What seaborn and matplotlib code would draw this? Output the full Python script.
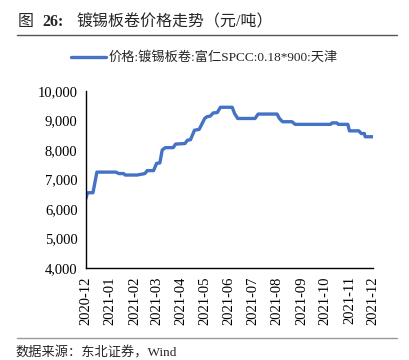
import numpy as np
import pandas as pd
import matplotlib
matplotlib.use('Agg')
import matplotlib.pyplot as plt
import matplotlib.dates as mdates
from matplotlib.lines import Line2D
from matplotlib.ticker import FuncFormatter
import seaborn as sns

# Price series (yuan/ton)
dates = [
    '2020-12-01', '2020-12-03', '2020-12-10', '2020-12-15', '2021-01-08',
    '2021-01-12', '2021-01-18', '2021-01-20', '2021-02-04', '2021-02-10',
    '2021-02-14', '2021-02-17', '2021-02-25', '2021-03-01', '2021-03-05',
    '2021-03-08', '2021-03-12', '2021-03-22', '2021-03-25', '2021-04-06',
    '2021-04-09', '2021-04-13', '2021-04-18', '2021-04-24', '2021-05-01',
    '2021-05-04', '2021-05-08', '2021-05-12', '2021-05-17', '2021-05-21',
    '2021-06-05', '2021-06-08', '2021-06-12', '2021-07-04', '2021-07-08',
    '2021-08-01', '2021-08-04', '2021-08-08', '2021-08-20', '2021-08-24',
    '2021-10-08', '2021-10-10', '2021-10-16', '2021-10-18', '2021-10-30',
    '2021-11-01', '2021-11-13', '2021-11-16', '2021-11-20', '2021-11-21',
    '2021-12-01',
]
prices = [
    6350, 6550, 6550, 7250, 7250,
    7200, 7200, 7150, 7150, 7180,
    7200, 7300, 7300, 7550, 7560,
    8000, 8080, 8080, 8200, 8220,
    8330, 8350, 8670, 8700, 9070,
    9130, 9150, 9260, 9270, 9450,
    9450, 9240, 9070, 9070, 9220,
    9220, 9070, 8960, 8960, 8870,
    8870, 8920, 8920, 8870, 8870,
    8650, 8650, 8560, 8560, 8450,
    8450,
]
series_name = '价格:镀锡板卷:富仁SPCC:0.18*900:天津'
y_ticks = [4000, 5000, 6000, 7000, 8000, 9000, 10000]

df = pd.DataFrame({'date': pd.to_datetime(dates), 'price': prices})

sns.set_style('white')
fonts = ['Liberation Serif', 'Noto Sans CJK SC', 'DejaVu Sans']
plt.rcParams['font.family'] = fonts

fig = plt.figure(figsize=(4.09, 3.6), dpi=100)
ax = fig.add_axes([0.210, 0.256, 0.702, 0.491])

sns.lineplot(data=df, x='date', y='price', ax=ax, color='#4472C4',
             linewidth=2.4, label=series_name)

ax.set_xlim(pd.Timestamp('2020-12-01'), pd.Timestamp('2021-12-01'))
ax.set_ylim(4000, 10000)
ax.set_yticks(y_ticks)
ax.yaxis.set_major_formatter(FuncFormatter(lambda v, p: f'{int(v):,}'))
ax.xaxis.set_major_locator(mdates.MonthLocator())
ax.xaxis.set_major_formatter(mdates.DateFormatter('%Y-%m'))
ax.set_xlabel('')
ax.set_ylabel('')

for lab in ax.get_xticklabels():
    lab.set_rotation(90)
ax.tick_params(axis='both', direction='out', length=4, width=1, colors='black',
               labelsize=10.5, pad=2)
for side in ['top', 'right']:
    ax.spines[side].set_visible(False)
for side in ['left', 'bottom']:
    ax.spines[side].set_color('black')
    ax.spines[side].set_linewidth(1)

ax.legend(loc='center', bbox_to_anchor=(0.50, 0.839), bbox_transform=fig.transFigure,
          frameon=False, fontsize=9.5, handlelength=2.6, handletextpad=0.2)

# title and source
fig.text(18 / 409, 1 - 22 / 360, '图', fontsize=11.5, va='center', family=fonts)
fig.text(42 / 409, 1 - 22 / 360, '26:', fontsize=11.5, fontweight='bold', va='center', family=fonts)
fig.text(76 / 409, 1 - 22 / 360, '镀锡板卷价格走势（元/吨）', fontsize=11.5, va='center', family=fonts)
fig.add_artist(Line2D([17 / 409, 397 / 409], [1 - 35 / 360, 1 - 35 / 360],
                      color='#555555', linewidth=1, transform=fig.transFigure))
fig.add_artist(Line2D([17 / 409, 397 / 409], [1 - 338 / 360, 1 - 338 / 360],
                      color='#999999', linewidth=1, transform=fig.transFigure))
fig.text(15 / 409, 1 - 353 / 360, '数据来源：东北证券，Wind', fontsize=9.5, va='center', family=fonts)

fig.savefig('out.png', dpi=100)
